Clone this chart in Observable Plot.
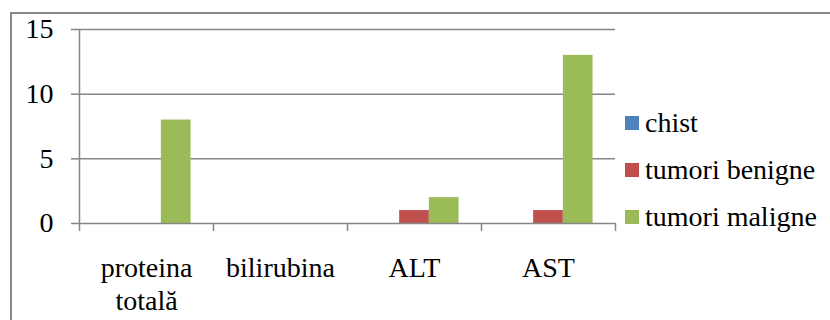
<!DOCTYPE html>
<html><head><meta charset="utf-8">
<script src="https://cdn.jsdelivr.net/npm/d3@7"></script>
<script src="https://cdn.jsdelivr.net/npm/@observablehq/plot@0.6"></script>
<style>
body{margin:0;background:#fff;}
#wrap{position:relative;width:830px;height:320px;overflow:hidden;font-family:'Liberation Serif';}
#border{position:absolute;left:10px;top:12px;width:900px;height:400px;border:2px solid #878787;box-sizing:border-box;}
#chart{position:absolute;left:0;top:0;}
#legend{position:absolute;left:625px;top:99px;}
.item{display:flex;align-items:center;height:47px;font-size:28px;color:#000;white-space:nowrap;font-family:'Liberation Serif';}
.sw{width:14px;height:14px;margin-right:6px;flex:none;}
svg text{font-family:'Liberation Serif' !important;}
</style></head>
<body><div id="wrap"><div id="border"></div><div id="chart"></div><div id="legend"></div></div>
<script>
const categories = ["proteina\ntotală", "bilirubina", "ALT", "AST"];
const series = ["chist", "tumori benigne", "tumori maligne"];
const chist = [0, 0, 0, 0];
const tumoriBenigne = [0, 0, 1, 1];
const tumoriMaligne = [8, 0, 2, 13];
const colors = ["#4F81BD", "#C0504D", "#9BBB59"];
const yTicks = [0, 5, 10, 15];

const seriesValues = [chist, tumoriBenigne, tumoriMaligne];
const barW = 0.2216;                       // bar width as a fraction of a category slot
const pad = (1 - series.length * barW) / 2;
const rows = [];
categories.forEach((c, i) => {
  series.forEach((s, j) => {
    rows.push({cat: i, series: s, j, value: seriesValues[j][i]});
  });
});

const gray = "#868686";
const chart = Plot.plot({
  width: 830, height: 320,
  marginLeft: 79, marginRight: 215, marginTop: 29, marginBottom: 97,
  x: {domain: [0, categories.length]},
  y: {domain: [0, 15]},
  color: {domain: series, range: colors},
  style: {fontFamily: "Liberation Serif", fontSize: "28px", color: "#000", background: "transparent"},
  marks: [
    Plot.gridY(yTicks.filter(v => v > 0), {stroke: gray, strokeOpacity: 1, strokeWidth: 1.5}),
    Plot.rectY(rows, {
      x1: d => d.cat + pad + d.j * barW,
      x2: d => d.cat + pad + (d.j + 1) * barW,
      y: "value", fill: "series"
    }),
    Plot.ruleY([0], {stroke: gray, strokeWidth: 1.5}),
    Plot.ruleX([0], {stroke: gray, strokeWidth: 1.5}),
    Plot.axisY({ticks: yTicks, tickSize: 8, tickPadding: 18, stroke: gray, strokeWidth: 1.5, fill: "#000", fontSize: 28, label: null}),
    Plot.axisX({ticks: d3.range(categories.length + 1), tickSize: 8, tickFormat: () => "", stroke: gray, strokeWidth: 1.5, label: null}),
    Plot.axisX({ticks: categories.map((c, i) => i + 0.5), tickSize: 0, tickPadding: 31,
      tickFormat: d => categories[Math.floor(d)], fill: "#000", fontSize: 28, lineHeight: 1.15, label: null})
  ]
});
document.getElementById("chart").appendChild(chart);

const legend = document.getElementById("legend");
series.forEach((s, j) => {
  const item = document.createElement("div");
  item.className = "item";
  const sw = document.createElement("span");
  sw.className = "sw";
  sw.style.background = colors[j];
  const t = document.createElement("span");
  t.textContent = s;
  item.appendChild(sw);
  item.appendChild(t);
  legend.appendChild(item);
});
</script>
</body></html>
